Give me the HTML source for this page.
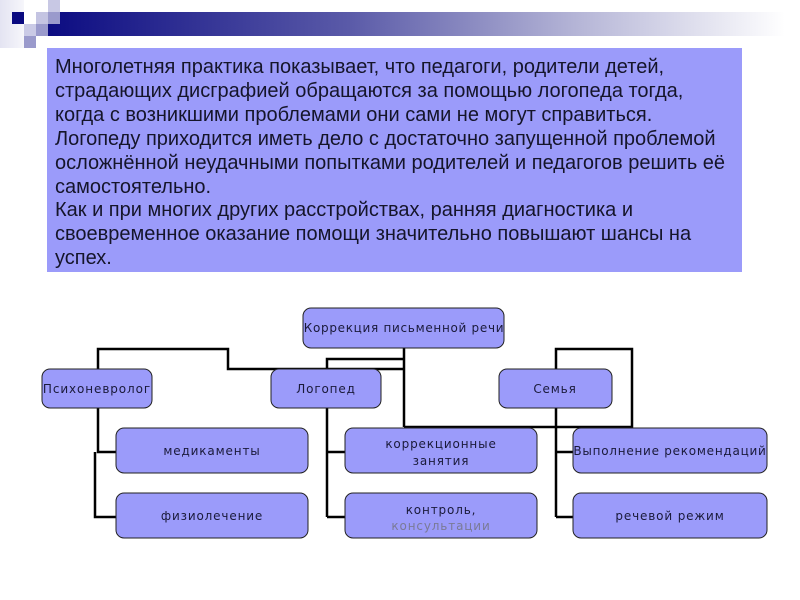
<!DOCTYPE html>
<html><head><meta charset="utf-8">
<style>
html,body{margin:0;padding:0;background:#fff;}
body{width:800px;height:600px;position:relative;overflow:hidden;}
.sq{position:absolute;width:12px;height:12px;}
#banner{position:absolute;left:48px;top:12px;width:752px;height:24px;background:linear-gradient(to right,#0c0c82 0%,#5a5aa8 40%,#b4b4d6 70%,#ffffff 98%);}
#tb{position:absolute;left:47px;top:48px;width:695px;height:224px;background:#9b9bfa;}
#tx{position:absolute;left:55px;top:56px;font-family:"Liberation Sans",sans-serif;font-size:20px;line-height:23.9px;color:#15152a;white-space:nowrap;letter-spacing:0px;}
svg{position:absolute;left:0;top:0;}
svg text{font-family:"DejaVu Sans",sans-serif;font-size:12px;letter-spacing:0.85px;fill:#1a1a3a;}
</style></head><body>
<div class="sq" style="left:0;top:0;width:24px;height:48px;background:linear-gradient(to right,#e4e4f2,#f6f6fb);"></div>
<div id="banner"></div>
<div class="sq" style="left:12px;top:12px;background:#0a0a80;"></div>
<div class="sq" style="left:48px;top:0;background:#c8c8e4;"></div>
<div class="sq" style="left:36px;top:12px;background:#c4c4e2;"></div>
<div class="sq" style="left:48px;top:12px;background:#9a9acc;"></div>
<div class="sq" style="left:24px;top:24px;background:#cacae6;"></div>
<div class="sq" style="left:36px;top:24px;background:#9a9acc;"></div>
<div class="sq" style="left:24px;top:36px;background:#9a9acc;"></div>
<div id="tb"></div>
<div id="tx">Многолетняя практика показывает, что педагоги, родители детей,<br>страдающих дисграфией обращаются за помощью логопеда тогда,<br>когда с возникшими проблемами они сами не могут справиться.<br>Логопеду приходится иметь дело с достаточно запущенной проблемой<br>осложнённой неудачными попытками родителей и педагогов решить её<br>самостоятельно.<br>Как и при многих других расстройствах, ранняя диагностика и<br>своевременное оказание помощи значительно повышают шансы на<br>успех.</div>
<svg width="800" height="600" viewBox="0 0 800 600">
<g fill="none" stroke="#000" stroke-width="2.5">
<polyline points="404,348 404,427"/>
<polyline points="404,359 327,359 327,369"/>
<polyline points="327,408 327,517"/>
<polyline points="327,452 345,452"/>
<polyline points="327,517 345,517"/>
<polyline points="404,369 228,369 228,349 98,349 98,369"/>
<polyline points="404,427 632,427 632,349 556,349 556,369"/>
<polyline points="556,408 556,517"/>
<polyline points="556,452 573,452"/>
<polyline points="556,517 573,517"/>
<polyline points="98,408 98,452 116,452"/>
<polyline points="95,452 95,517 116,517"/>
</g>
<g fill="#9b9bfa" stroke="#222" stroke-width="1">
<rect x="303" y="308" width="201" height="40" rx="8"/>
<rect x="42" y="369" width="110" height="39" rx="8"/>
<rect x="271" y="369" width="110" height="39" rx="8"/>
<rect x="499" y="369" width="113" height="39" rx="8"/>
<rect x="116" y="428" width="192" height="45" rx="8"/>
<rect x="116" y="493" width="192" height="45" rx="8"/>
<rect x="345" y="428" width="192" height="45" rx="8"/>
<rect x="345" y="493" width="192" height="45" rx="8"/>
<rect x="573" y="428" width="194" height="45" rx="8"/>
<rect x="573" y="493" width="194" height="45" rx="8"/>
</g>
<g text-anchor="middle">
<text x="404" y="332" style="letter-spacing:0.7px">Коррекция письменной речи</text>
<text x="97" y="393" style="letter-spacing:0.9px">Психоневролог</text>
<text x="326" y="393">Логопед</text>
<text x="555" y="393">Семья</text>
<text x="212" y="455">медикаменты</text>
<text x="212" y="520">физиолечение</text>
<text x="441" y="448">коррекционные</text>
<text x="441" y="465">занятия</text>
<text x="441" y="514">контроль,</text>
<text x="441" y="530" style="fill:#7a7a96">консультации</text>
<text x="670" y="455" style="letter-spacing:0.75px">Выполнение рекомендаций</text>
<text x="670" y="520">речевой режим</text>
</g>
</svg>
</body></html>
